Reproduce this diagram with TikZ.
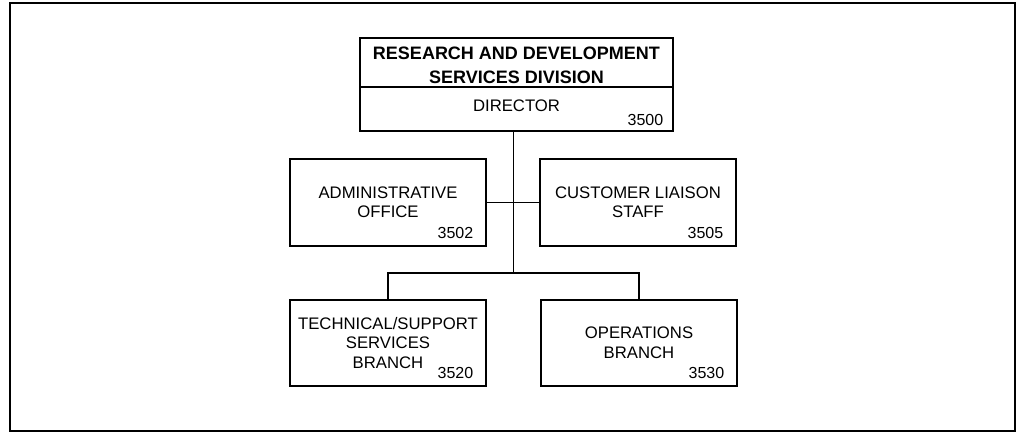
\documentclass[tikz,border=0pt]{standalone}
\usepackage{fontspec}
\setmainfont{Liberation Sans}
\usetikzlibrary{positioning,calc}

\begin{document}
\begin{tikzpicture}[x=1pt,y=-1pt,line width=1.6pt,node distance=54pt,
    unit/.style={draw,outer sep=0pt,minimum width=196pt,minimum height=87pt,align=center,font=\fontsize{16.7}{19.5}\selectfont},
    code/.style={anchor=base east,inner sep=0pt,font=\fontsize{16}{19}\selectfont}]

    \useasboundingbox (0,0) rectangle (1018,435);
    \draw[line width=2.5pt] (10,3) rectangle (1015,431);

    \node[unit,minimum width=313pt,minimum height=49pt,font=\bfseries\fontsize{18}{24}\selectfont] (div) at (516.5,62.5) {\rule{0pt}{18pt}RESEARCH AND DEVELOPMENT\\SERVICES DIVISION};
    \node[unit,minimum width=313pt,minimum height=44pt,text depth=6pt,below=0pt of div] (dir) {DIRECTOR};
    \node[unit] (admin) at (388,202.5) {ADMINISTRATIVE\\OFFICE};
    \node[unit] (cust) [right=of admin] {CUSTOMER LIAISON\\STAFF};
    \node[unit,minimum height=86pt] (tech) at (388,343) {TECHNICAL/SUPPORT\\SERVICES\\BRANCH};
    \node[unit,minimum height=86pt] (ops) [right=55pt of tech] {OPERATIONS\\BRANCH};

    \node[code] (c3500) at ([xshift=-9pt,yshift=5pt]dir.south east) {3500};
    \node[code] (c3502) at ([xshift=-12pt,yshift=7pt]admin.south east) {3502};
    \node[code] (c3505) at ([xshift=-12pt,yshift=7pt]cust.south east) {3505};
    \node[code] (c3520) at ([xshift=-12pt,yshift=7pt]tech.south east) {3520};
    \node[code] (c3530) at ([xshift=-12pt,yshift=7pt]ops.south east) {3530};

    \coordinate (bus) at ($(tech.north)!.5!(ops.north)+(0,-27)$);
    \path[draw]
    (admin) -- (cust)
    (dir.south -| bus) -- (bus)
    (tech.north) |- (bus) -| (ops.north);
\end{tikzpicture}
\end{document}
